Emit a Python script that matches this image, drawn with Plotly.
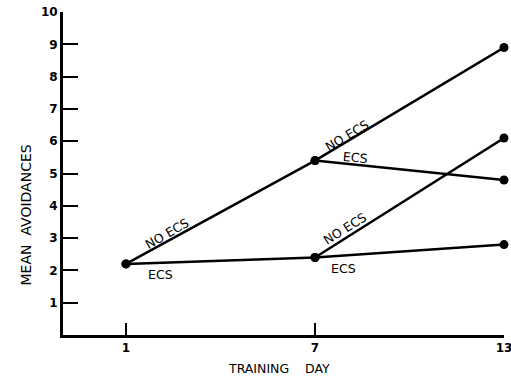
import plotly.graph_objects as go

# Training days on the x axis
days = [1, 7, 13]
day_ticks = [1, 7, 13]
avoid_ticks = list(range(1, 11))

# Mean avoidances for each treatment branch
no_ecs_path = [2.2, 5.4, 8.9]        # no ECS on either block
ecs_path = [2.2, 2.4, 2.8]           # ECS on both blocks
late_ecs_days = [7, 13]
late_ecs = [5.4, 4.8]                # no ECS, then ECS
late_no_ecs_days = [7, 13]
late_no_ecs = [2.4, 6.1]             # ECS, then no ECS

# Branch labels: (text, x, y, angle)
branch_labels = [
    ("NO ECS", 2.3, 3.15, -30),
    ("ECS", 2.08, 1.86, 0),
    ("NO ECS", 8.02, 6.18, -31),
    ("ECS", 8.27, 5.51, 5),
    ("NO ECS", 7.95, 3.3, -32),
    ("ECS", 7.89, 2.07, 0),
]

FONT = "DejaVu Sans"
line_style = dict(color="black", width=2.5)
marker_style = dict(color="black", size=9)

fig = go.Figure()
for xs, ys in [(days, no_ecs_path), (days, ecs_path),
               (late_ecs_days, late_ecs), (late_no_ecs_days, late_no_ecs)]:
    fig.add_trace(go.Scatter(x=xs, y=ys, mode="lines+markers",
                             line=line_style, marker=marker_style,
                             cliponaxis=False, showlegend=False))

for text, x, y, ang in branch_labels:
    fig.add_annotation(x=x, y=y, text=text, textangle=ang, showarrow=False,
                       xanchor="center", yanchor="middle",
                       font=dict(family=FONT, size=12.5, color="black"))

fig.add_annotation(xref="paper", yref="paper", x=0.49, y=0, yshift=-33,
                   xanchor="center", yanchor="middle",
                   text="TRAINING&nbsp;&nbsp;&nbsp;&nbsp;DAY", showarrow=False,
                   font=dict(family=FONT, size=12.5, color="black"))
fig.add_annotation(xref="paper", yref="paper", x=0, y=0.37, xshift=-37,
                   xanchor="center", yanchor="middle",
                   text="MEAN&nbsp;&nbsp;AVOIDANCES", textangle=-90, showarrow=False,
                   font=dict(family=FONT, size=14, color="black"))

fig.update_layout(
    width=511, height=382,
    margin=dict(l=63, r=7, t=12, b=47, autoexpand=False),
    plot_bgcolor="white", paper_bgcolor="white",
    font=dict(family=FONT, size=12, color="black"),
    xaxis=dict(range=[-1, 13], tickvals=day_ticks, ticks="inside", ticklen=12,
               tickwidth=1.5, tickcolor="black", showline=True, linewidth=3,
               linecolor="black", showgrid=False, zeroline=False,
               automargin=False, ticklabeloverflow="allow",
               tickfont=dict(family=FONT, size=12, weight="bold")),
    yaxis=dict(range=[0, 10], tickvals=avoid_ticks, ticks="inside", ticklen=15,
               tickwidth=1.5, tickcolor="black", showline=True, linewidth=3,
               linecolor="black", showgrid=False, zeroline=False,
               automargin=False, ticklabeloverflow="allow",
               tickfont=dict(family=FONT, size=12, weight="bold")),
)

fig.write_html("out.html")
